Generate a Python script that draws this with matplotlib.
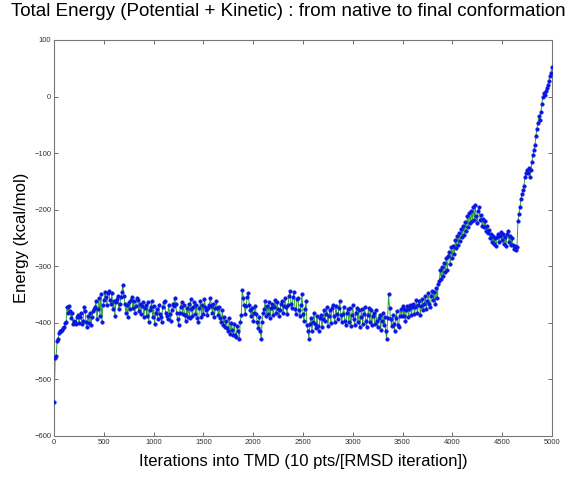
import numpy as np
import matplotlib
matplotlib.use("Agg")
import matplotlib.pyplot as plt

step = 10
energy = [
    # 0 - 500
    -540, -462, -458, -432, -428, -418, -415, -414, -413, -410, -408,
    -400, -398, -372, -382, -370, -380, -392, -382, -402, -396,
    -398, -402, -390, -386, -400, -390, -382, -402, -396, -372,
    -380, -398, -408, -388, -400, -382, -404, -390, -380, -376,
    -372, -362, -394, -376, -356, -388, -350, -398, -368, -360,
    # 510 - 1000
    -346, -354, -368, -348, -344, -360, -366, -347, -376, -362,
    -388, -364, -358, -352, -376, -366, -355, -346, -334, -352,
    -366, -382, -368, -390, -364, -376, -360, -354, -374, -362,
    -382, -370, -356, -360, -380, -366, -384, -370, -364, -390,
    -374, -368, -388, -364, -398, -378, -372, -362, -390, -370,
    # 1010 - 1500
    -402, -382, -376, -394, -368, -384, -390, -398, -372, -364,
    -362, -382, -388, -394, -368, -384, -396, -378, -366, -370,
    -356, -366, -382, -394, -404, -382, -372, -364, -384, -368,
    -386, -396, -374, -390, -366, -392, -358, -376, -388, -372,
    -364, -384, -368, -392, -398, -374, -362, -390, -368, -384,
    # 1510 - 2000
    -358, -372, -378, -386, -374, -368, -356, -370, -382, -366,
    -390, -374, -362, -374, -386, -372, -392, -398, -378, -404,
    -390, -408, -396, -410, -414, -392, -420, -400, -412, -422,
    -402, -422, -426, -406, -414, -428, -398, -386, -342, -356,
    -368, -384, -370, -354, -348, -368, -378, -388, -374, -396,
    # 2010 - 2500
    -382, -370, -384, -398, -410, -390, -414, -428, -398, -382,
    -376, -362, -388, -370, -384, -364, -392, -374, -366, -386,
    -372, -360, -382, -364, -376, -388, -378, -366, -362, -382,
    -370, -356, -372, -384, -368, -352, -344, -366, -374, -354,
    -346, -376, -384, -358, -356, -378, -388, -368, -350, -384,
    # 2510 - 3000
    -396, -376, -362, -404, -414, -428, -402, -392, -414, -398,
    -382, -402, -410, -388, -406, -414, -392, -386, -408, -394,
    -378, -396, -384, -372, -406, -388, -378, -400, -374, -368,
    -388, -398, -370, -384, -394, -374, -362, -386, -398, -384,
    -372, -396, -404, -382, -376, -398, -374, -406, -386, -368,
    # 3010 - 3500
    -394, -404, -382, -374, -398, -378, -408, -390, -376, -402,
    -384, -372, -396, -408, -386, -374, -398, -378, -404, -388,
    -382, -402, -378, -396, -408, -392, -386, -412, -396, -382,
    -404, -390, -414, -428, -392, -350, -374, -394, -406, -386,
    -402, -414, -392, -380, -404, -408, -388, -376, -388, -370,
    # 3510 - 4000
    -388, -376, -396, -378, -370, -390, -376, -368, -386, -372,
    -366, -384, -372, -360, -382, -368, -362, -386, -370, -358,
    -378, -366, -352, -376, -362, -348, -366, -372, -352, -344,
    -360, -346, -366, -338, -356, -332, -326, -306, -322, -302,
    -318, -294, -310, -286, -306, -282, -274, -296, -266, -286,
    # 4010 - 4500
    -264, -278, -254, -268, -246, -262, -242, -256, -234, -248,
    -228, -244, -222, -238, -212, -230, -206, -224, -202, -220,
    -196, -218, -192, -212, -224, -202, -196, -218, -210, -228,
    -216, -230, -220, -238, -228, -242, -236, -250, -243, -258,
    -246, -260, -250, -264, -248, -243, -258, -246, -240, -254,
    # 4510 - 5000
    -243, -260, -248, -264, -243, -238, -258, -246, -262, -250,
    -262, -270, -264, -272, -266, -220, -208, -196, -182, -172,
    -166, -158, -143, -136, -130, -136, -126, -142, -130, -116,
    -104, -94, -86, -70, -58, -46, -34, -42, -28, -14,
    0, 6, 2, 10, 16, 20, 28, 36, 42, 52,
]
iterations = np.arange(len(energy)) * step

x_ticks = [0, 500, 1000, 1500, 2000, 2500, 3000, 3500, 4000, 4500, 5000]
y_ticks = [-600, -500, -400, -300, -200, -100, 0, 100]

title = "Total Energy (Potential + Kinetic) : from native to final conformation"
x_label = "Iterations into TMD (10 pts/[RMSD iteration])"
y_label = "Energy (kcal/mol)"

plt.rcParams["font.family"] = ["Liberation Sans", "DejaVu Sans"]

fig = plt.figure(figsize=(5.76, 4.79), dpi=100)
ax = fig.add_axes([0.094, 0.09, 0.864, 0.8265])

ax.plot(iterations, energy, color="#2aa82a", lw=0.7, zorder=2)
ax.plot(iterations, energy, ls="none", marker="o", ms=2.6, mfc="#0a14e6",
        mec="#0a14e6", mew=0.3, zorder=3)

ax.set_xlim(0, 5000)
ax.set_ylim(-600, 100)
ax.set_xticks(x_ticks)
ax.set_yticks(y_ticks)
ax.tick_params(direction="in", top=True, right=True, length=3, width=0.6,
               labelsize=5.5, colors="#555555", labelcolor="#333333", pad=2)
for s in ax.spines.values():
    s.set_color("#777777")
    s.set_linewidth(0.8)

fig.text(0.5, 0.975, title, ha="center", va="center", fontsize=13.5)
ax.set_xlabel(x_label, fontsize=12, labelpad=6)
ax.set_ylabel(y_label, fontsize=12, labelpad=4)

fig.savefig("out.png", dpi=100)
